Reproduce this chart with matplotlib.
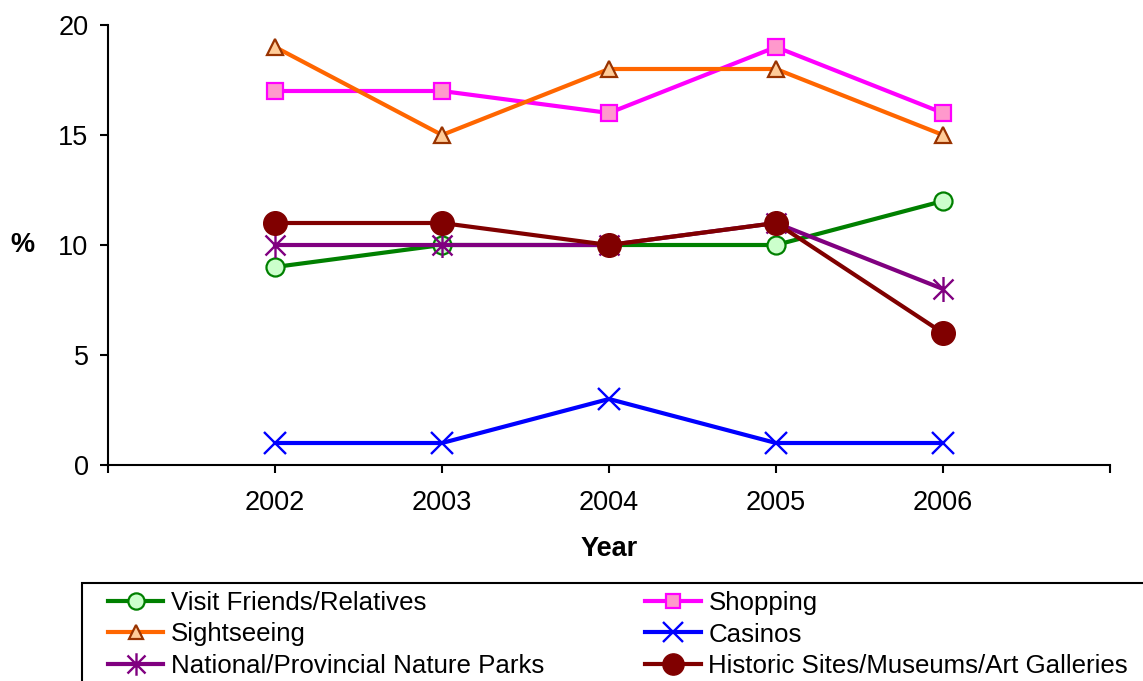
import matplotlib
matplotlib.use("Agg")
import matplotlib.pyplot as plt
from matplotlib.path import Path
from matplotlib.patches import Rectangle

# survey shares (%) of trip activities by year
years = ["2002", "2003", "2004", "2005", "2006"]
visit_friends = [9, 10, 10, 10, 12]
shopping = [17, 17, 16, 19, 16]
sightseeing = [19, 15, 18, 18, 15]
casinos = [1, 1, 3, 1, 1]
nature_parks = [10, 10, 10, 11, 8]
historic_sites = [11, 11, 10, 11, 6]

plt.rcParams["font.family"] = ["Liberation Sans", "DejaVu Sans"]

W, H = 1143, 681

# Excel style star: an X crossed by a vertical stroke
star = Path(
    [(-1, -1), (1, 1), (-1, 1), (1, -1), (0, -1.25), (0, 1.25)],
    [Path.MOVETO, Path.LINETO, Path.MOVETO, Path.LINETO, Path.MOVETO, Path.LINETO],
)

fig = plt.figure(figsize=(W / 100, H / 100), dpi=100)
ax = fig.add_axes([108 / W, 1 - 465 / H, (1110 - 108) / W, 440 / H])

x = list(range(len(years)))
lw = 3.0

l1, = ax.plot(x, visit_friends, color="#008000", lw=lw, marker="o", ms=13,
              mfc="#CCFFCC", mec="#008000", mew=1.6, label="Visit Friends/Relatives")
l2, = ax.plot(x, shopping, color="#FF00FF", lw=lw, marker="s", ms=11,
              mfc="#FF99CC", mec="#FF00FF", mew=1.6, label="Shopping")
l3, = ax.plot(x, sightseeing, color="#FF6600", lw=lw, marker="^", ms=11,
              mfc="#FFCC99", mec="#993300", mew=1.6, label="Sightseeing")
l4, = ax.plot(x, casinos, color="#0000FF", lw=lw, marker="x", ms=16,
              mec="#0000FF", mew=1.7, label="Casinos")
l5, = ax.plot(x, nature_parks, color="#800080", lw=lw, marker=star, ms=18,
              mec="#800080", mew=1.7, label="National/Provincial Nature Parks")
l6, = ax.plot(x, historic_sites, color="#800000", lw=lw, marker="o", ms=17,
              mfc="#800000", mec="#800000", label="Historic Sites/Museums/Art Galleries")

ax.set_xlim(-1, len(years))
ax.set_ylim(0, 20)
ax.set_yticks([0, 5, 10, 15, 20])
ax.set_xticks(range(-1, len(years) + 1))
ax.set_xticklabels([""] + years + [""])

for side in ("top", "right"):
    ax.spines[side].set_visible(False)
for side in ("left", "bottom"):
    ax.spines[side].set_linewidth(1.5)
ax.tick_params(axis="both", direction="out", length=6, width=1.5,
               labelsize=19.5, pad=8)
ax.tick_params(axis="x", pad=12)

fig.text(609 / W, 1 - 549 / H, "Year", ha="center", va="center",
         fontsize=19.5, fontweight="bold")
fig.text(22 / W, 1 - 245 / H, "%", ha="center", va="center",
         fontsize=19.5, fontweight="bold")

# legend frame runs off the right and bottom edges
fig.patches.append(Rectangle((82 / W, -0.05), 1.1, 1 - 583 / H + 0.05,
                             transform=fig.transFigure, fill=False,
                             edgecolor="black", linewidth=1.5))

order = [l1, l3, l5, l2, l4, l6]
leg = fig.legend(
    order, [h.get_label() for h in order],
    ncol=2, loc="upper left", bbox_to_anchor=(100 / W, 1 - 583 / H),
    bbox_transform=fig.transFigure, borderaxespad=0, fontsize=18.6,
    frameon=False, handlelength=2.15, handletextpad=0.3, labelspacing=0.3,
    columnspacing=3.9, borderpad=0.3, markerscale=0.9,
)

fig.savefig("out.png", dpi=100)
